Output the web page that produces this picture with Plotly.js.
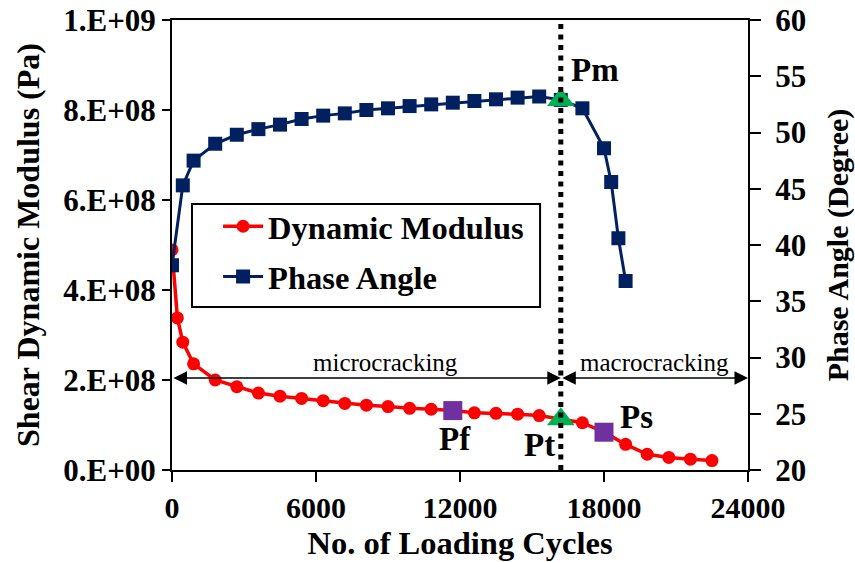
<!DOCTYPE html>
<html><head><meta charset="utf-8">
<script src="https://cdn.plot.ly/plotly-3.0.1.min.js"></script>
<style>html,body{margin:0;padding:0;background:#fff}#chart{width:855px;height:562px}</style>
</head><body><div id="chart"></div>
<script>
// ---- data ----
const modCycles = [0, 225, 450, 900, 1800, 2700, 3600, 4500, 5400, 6300, 7200, 8100, 9000, 9900, 10800, 11700, 12600, 13500, 14400, 15300, 16200, 17100, 18000, 18900, 19800, 20700, 21600, 22500];
const modulus = [4.89e8, 3.38e8, 2.84e8, 2.36e8, 2.0e8, 1.85e8, 1.71e8, 1.64e8, 1.59e8, 1.54e8, 1.48e8, 1.44e8, 1.41e8, 1.37e8, 1.35e8, 1.32e8, 1.27e8, 1.26e8, 1.24e8, 1.21e8, 1.13e8, 1.05e8, 0.84e8, 0.57e8, 0.35e8, 0.28e8, 0.24e8, 0.21e8];
const phaseCycles = [0, 450, 900, 1800, 2700, 3600, 4500, 5400, 6300, 7200, 8100, 9000, 9900, 10800, 11700, 12600, 13500, 14400, 15300, 16200, 17100, 18000, 18300, 18600, 18900];
const phaseAngle = [38.2, 45.3, 47.5, 49.0, 49.8, 50.3, 50.7, 51.2, 51.5, 51.7, 52.0, 52.15, 52.35, 52.5, 52.65, 52.8, 52.95, 53.1, 53.2, 52.9, 52.15, 48.6, 45.6, 40.6, 36.8];
const keyNames = ['Pf', 'Pt', 'Ps'];
const keyCycles = [11700, 16200, 18000];
const pmName = 'Pm';
const pmCycle = 16200;
const xTickVals = [0, 6000, 12000, 18000, 24000];
const xTickText = ['0', '6000', '12000', '18000', '24000'];
const yTickVals = [0, 2e8, 4e8, 6e8, 8e8, 1e9];
const yTickText = ['0.E+00', '2.E+08', '4.E+08', '6.E+08', '8.E+08', '1.E+09'];
const y2TickVals = [20, 25, 30, 35, 40, 45, 50, 55, 60];
const regionNames = ['microcracking', 'macrocracking'];
const xMax = 24000;

// ---- styling ----
const FONT = 'Liberation Serif, Times New Roman, serif';
const RED = '#FF0000', NAVY = '#002060', PURPLE = '#7030A0', GREEN = '#00B050';

const modAt = c => modulus[modCycles.indexOf(c)];
const phaseAt = c => phaseAngle[phaseCycles.indexOf(c)];

const traces = [
  {x: modCycles, y: modulus, name: 'Dynamic Modulus', type: 'scatter', mode: 'lines+markers',
   line: {color: RED, width: 3.5}, marker: {symbol: 'circle', size: 13, color: RED},
   yaxis: 'y', legendgroup: 'a'},
  {x: [keyCycles[0]], y: [modAt(keyCycles[0])], type: 'scatter', mode: 'markers', showlegend: false,
   marker: {symbol: 'square', size: 19, color: PURPLE}, yaxis: 'y'},
  {x: [keyCycles[2]], y: [modAt(keyCycles[2])], type: 'scatter', mode: 'markers', showlegend: false,
   marker: {symbol: 'square', size: 19, color: PURPLE}, yaxis: 'y'},
  {x: [keyCycles[1]], y: [modAt(keyCycles[1])], type: 'scatter', mode: 'markers', showlegend: false,
   marker: {symbol: 'triangle-up', size: 24, color: GREEN}, yaxis: 'y'},
  {x: phaseCycles, y: phaseAngle, name: 'Phase Angle', type: 'scatter', mode: 'lines+markers',
   line: {color: NAVY, width: 3}, marker: {symbol: 'square', size: 14, color: NAVY},
   yaxis: 'y2', legendgroup: 'b'},
  {x: [pmCycle], y: [phaseAt(pmCycle)], type: 'scatter', mode: 'markers', showlegend: false,
   marker: {symbol: 'triangle-up', size: 24, color: GREEN}, yaxis: 'y2'}
];

const arrowY = 2.044e8;
const annFont = {family: FONT, size: 33, color: '#000', weight: 'bold'};
const regFont = {family: FONT, size: 25, color: '#000', weight: 'normal'};
const annotations = [
  {x: pmCycle, y: phaseAt(pmCycle), yref: 'y2', text: pmName, showarrow: false, xanchor: 'left', xshift: 8, yshift: 30, font: annFont},
  {x: keyCycles[0], y: modAt(keyCycles[0]), text: keyNames[0], showarrow: false, xanchor: 'center', xshift: 2, yshift: -28, font: annFont},
  {x: keyCycles[1], y: modAt(keyCycles[1]), text: keyNames[1], showarrow: false, xanchor: 'right', xshift: -4, yshift: -26, font: annFont},
  {x: keyCycles[2], y: modAt(keyCycles[2]), text: keyNames[2], showarrow: false, xanchor: 'left', xshift: 14, yshift: 15, font: annFont},
  // double arrows
  {x: keyCycles[1], y: arrowY, ax: 0, ay: arrowY, axref: 'x', ayref: 'y', xref: 'x', yref: 'y', text: '',
   showarrow: true, arrowside: 'end+start', arrowhead: 2, arrowsize: 1.8, arrowwidth: 1.5, arrowcolor: '#000', standoff: 0, startstandoff: 0},
  {x: xMax, y: arrowY, ax: keyCycles[1], ay: arrowY, axref: 'x', ayref: 'y', xref: 'x', yref: 'y', text: '',
   showarrow: true, arrowside: 'end+start', arrowhead: 2, arrowsize: 1.8, arrowwidth: 1.5, arrowcolor: '#000', standoff: 0, startstandoff: 0},
  {x: 8900, y: arrowY, text: regionNames[0], showarrow: false, yshift: 16, font: regFont},
  {x: (keyCycles[1] + xMax) / 2, y: arrowY, text: regionNames[1], showarrow: false, yshift: 16, font: regFont}
];

const layout = {
  width: 855, height: 562,
  margin: {l: 172, r: 107, t: 20, b: 92, pad: 0},
  paper_bgcolor: '#fff', plot_bgcolor: '#fff',
  font: {family: FONT, size: 31, color: '#000', weight: 'bold'},
  showlegend: true,
  legend: {x: 0.08, y: 0.603, xanchor: 'left', yanchor: 'top', bgcolor: 'rgba(0,0,0,0)', borderwidth: 0,
           font: {family: FONT, size: 32.5, color: '#000', weight: 'bold'}, tracegroupgap: 5, itemwidth: 40},
  xaxis: {range: [0, xMax], tickvals: xTickVals, ticktext: xTickText, showgrid: false, zeroline: false,
          showline: true, linecolor: '#000', linewidth: 2, mirror: true, ticks: 'outside', ticklen: 10, tickwidth: 2, tickcolor: '#000',
          tickfont: {family: FONT, size: 30, weight: 'bold'},
          title: {text: 'No. of Loading Cycles', font: {family: FONT, size: 32.5, weight: 'bold'}, standoff: 8}},
  yaxis: {range: [0, 1e9], tickvals: yTickVals, ticktext: yTickText, showgrid: false, zeroline: false,
          showline: true, linecolor: '#000', linewidth: 2, ticks: 'outside', ticklen: 8, tickwidth: 2, tickcolor: '#000',
          tickfont: {family: FONT, size: 31, weight: 'bold'},
          title: {text: 'Shear Dynamic Modulus (Pa)', font: {family: FONT, size: 32, weight: 'bold'}, standoff: 14}},
  yaxis2: {range: [20, 60], tickvals: y2TickVals, overlaying: 'y', side: 'right', showgrid: false, zeroline: false,
          showline: true, linecolor: '#000', linewidth: 2, ticks: 'outside', ticklen: 11, tickwidth: 2, tickcolor: '#000',
          tickfont: {family: FONT, size: 31, weight: 'bold'}, ticklabelstandoff: 8,
          title: {text: 'Phase Angle (Degree)', font: {family: FONT, size: 30, weight: 'bold'}, standoff: 22}},
  shapes: [
    {type: 'line', xref: 'x', yref: 'paper', x0: pmCycle, x1: pmCycle, y0: 0, y1: 1, layer: 'above',
     line: {color: '#000', width: 5, dash: '5px,5.5px'}},
    // legend frame
    {type: 'rect', xref: 'paper', yref: 'paper', x0: 0.0347, x1: 0.639, y0: 0.362, y1: 0.591, layer: 'above',
     fillcolor: '#fff', line: {color: '#000', width: 2}}
  ],
  annotations: annotations
};

Plotly.newPlot('chart', traces, layout, {displayModeBar: false, staticPlot: true});
</script>
</body></html>
